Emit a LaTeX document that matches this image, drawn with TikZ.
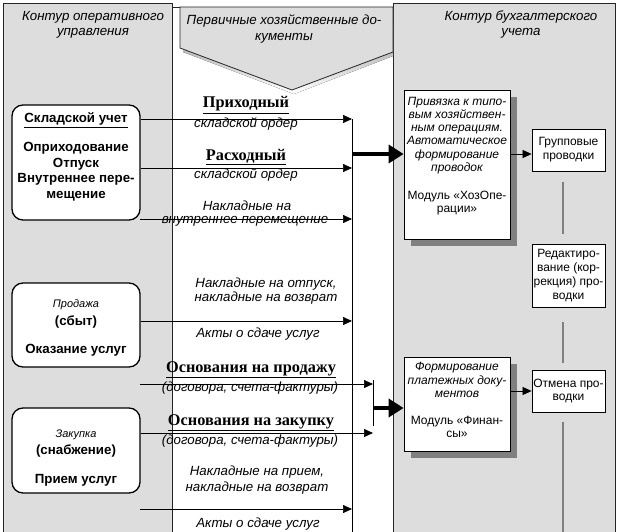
\documentclass[tikz,border=0pt]{standalone}
\usepackage{fontspec}
\setmainfont{Liberation Sans}
\newfontfamily\serifb{Liberation Serif}
\usetikzlibrary{arrows.meta,shadows,calc}
\definecolor{panel}{HTML}{DDDDDD}
\definecolor{shade}{HTML}{808080}
\begin{document}
\begin{tikzpicture}[x=1pt,y=-1pt,
  panelbox/.style={draw=black!85, line width=0.8pt, fill=panel},
  lbox/.style={draw=black, line width=1.3pt, rounded corners=11pt, fill=white, inner sep=0},
  rbox/.style={draw=black, line width=0.8pt, fill=white, inner sep=0, align=center,
     font=\fontsize{12}{13.8}\selectfont},
  sbox/.style={rbox, drop shadow={shadow xshift=7pt, shadow yshift=-7pt, fill=shade, opacity=1}},
  arr/.style={line width=0.7pt, -{Triangle[length=9pt,width=8pt]}},
  thickarr/.style={line width=3.5pt, -{Triangle[length=15pt,width=18pt]}},
  gline/.style={draw=shade, line width=1.8pt},
  ttl/.style={font=\fontsize{13.3}{15.5}\selectfont\itshape, align=center, inner sep=0},
  lbl/.style={font=\fontsize{13.3}{15}\selectfont\itshape, inner sep=0},
  ser/.style={font=\fontsize{16.3}{18}\serifb\bfseries\selectfont, inner sep=0},
  bt/.style={font=\fontsize{13.3}{15.5}\selectfont\bfseries, align=center, inner sep=0},
  st/.style={font=\fontsize{11}{13}\selectfont\itshape, inner sep=0},
  rit/.style={font=\fontsize{12}{13.2}\selectfont\itshape, align=center, inner sep=0},
  rt/.style={font=\fontsize{12}{13}\selectfont, align=center, inner sep=0},
]
\useasboundingbox[fill=white] (0,0) rectangle (618,532);
% panels
\path[panelbox] (3,3) rectangle (172,545);
\path[panelbox] (393,3) rectangle (615,545);
\draw[black!85, line width=0.8pt] (172,7) -- (393,7);
% banner
\fill[shade] (183,11) -- (183,52) -- (294,94) -- (393,56) -- (393,11) -- cycle;
\path[draw=black!85, line width=0.8pt, fill=panel] (180,7) -- (180,48) -- (292,90) -- (393,52) -- (393,7) -- cycle;
\node[ttl] (ttlL) at (93,25) {Контур оперативного\\управления};
\node[ttl] (ttlM) at (284,29) {Первичные хозяйственные до-\\кументы};
\node[ttl] (ttlR) at (521,24.5) {Контур бухгалтерского\\учета};

% left boxes
\node[lbox, minimum width=128pt, minimum height=115pt] (sklad) at (76,162.5) {};
\node[bt] (skladT) at (76,157) {\underline{Складской учет}\\[13.5pt]Оприходование\\Отпуск\\Внутреннее пере-\\мещение};
\node[lbox, minimum width=128pt, minimum height=84pt] (prod) at (76,325) {};
\node[st] (prodA) at (76,305) {Продажа};
\node[bt] (prodB) at (76,322) {(сбыт)};
\node[bt] (prodC) at (76,350) {Оказание услуг};
\node[lbox, minimum width=128pt, minimum height=85pt] (zak) at (76,450.5) {};
\node[st] (zakA) at (76,435) {Закупка};
\node[bt] (zakB) at (76,451) {(снабжение)};
\node[bt] (zakC) at (76,480) {Прием услуг};

% right boxes
\node[sbox, minimum width=106pt, minimum height=149pt] (hoz) at (457,164.5) {};
\node[rit] (hozA) at (457,135.5) {Привязка к типо-\\вым хозяйствен-\\ным операциям.\\Автоматическое\\формирование\\проводок};
\node[rt] (hozB) at (457,203) {Модуль «ХозОпе-\\рации»};
\node[sbox, minimum width=106pt, minimum height=94pt] (fin) at (457,404) {};
\node[rit] (finA) at (457,380) {Формирование\\платежных доку-\\ментов};
\node[rt] (finB) at (457,426.5) {Модуль «Финан-\\сы»};
\node[rbox, minimum width=73pt, minimum height=42pt] (grp) at (568.5,150) {Групповые\\проводки};
\node[rbox, minimum width=73pt, minimum height=63pt] (red) at (568.5,275.5) {Редактиро-\\вание (кор-\\рекция) про-\\водки};
\node[rbox, minimum width=73pt, minimum height=42pt] (otm) at (568.5,391) {Отмена про-\\водки};

% bus coordinates
\coordinate (b1) at (352,119);
\coordinate (b2) at (352,168);
\coordinate (b3) at (352,219);
\coordinate (b4) at (352,321);
\coordinate (b7) at (352,509);
\coordinate (bend) at (352,545);
\coordinate (c1) at (373,384);
\coordinate (c2) at (373,433);
\coordinate (ctop) at (373,380);
\coordinate (cbot) at (373,426);
\coordinate (s3) at (140,219);
\coordinate (s5) at (140,384);
\coordinate (s7) at (140,509);
\coordinate (t1) at (352,154);
\coordinate (t2) at (373,408);

\draw[line width=0.8pt] (b1) -- (bend);
\draw[line width=0.8pt] (ctop) -- (cbot);

\draw[arr] (sklad.east |- b1) -- (b1);
\draw[arr] (sklad.east |- b2) -- (b2);
\draw[arr] (s3) -- (b3);
\draw[arr] (prod.east |- b4) -- (b4);
\draw[arr] (s5) -- (c1);
\draw[arr] (zak.east |- c2) -- (c2);
\draw[arr] (s7) -- (b7);

\draw[thickarr] (t1) -- (hoz.west |- t1);
\draw[thickarr] (t2) -- (fin.west |- t2);
\draw[arr] (hoz.east |- 0,154) -- (grp.west |- 0,154);
\draw[arr] (fin.east |- otm.west) -- (otm.west);

\draw[gline] (563,182) -- (563,234);
\draw[gline] (563,322) -- (563,363);
\draw[gline] (563,422) -- (563,545);

% middle labels
\node[ser] (l1a) at (246,105) {\underline{Приходный}};
\node[lbl] (l1b) at (246,124) {складской ордер};
\node[ser] (l2a) at (246,157) {\underline{Расходный}};
\node[lbl] (l2b) at (246,175) {складской ордер};
\node[lbl] (l3a) at (247,206) {Накладные на};
\node[lbl] (l3b) at (245,221) {внутреннее перемещение};
\node[lbl] (l4a) at (266,284) {Накладные на отпуск,};
\node[lbl] (l4b) at (266,298) {накладные на возврат};
\node[lbl] (l4c) at (258,334) {Акты о сдаче услуг};
\node[ser] (l5a) at (251,370) {\underline{Основания на продажу}};
\node[lbl] (l5b) at (250,388) {(договора, счета-фактуры)};
\node[ser] (l6a) at (251,423) {\underline{Основания на закупку}};
\node[lbl] (l6b) at (250,441) {(договора, счета-фактуры)};
\node[lbl] (l7a) at (257,472) {Накладные на прием,};
\node[lbl] (l7b) at (257,488) {накладные на возврат};
\node[lbl] (l7c) at (258,524) {Акты о сдаче услуг};
\end{tikzpicture}
\end{document}
